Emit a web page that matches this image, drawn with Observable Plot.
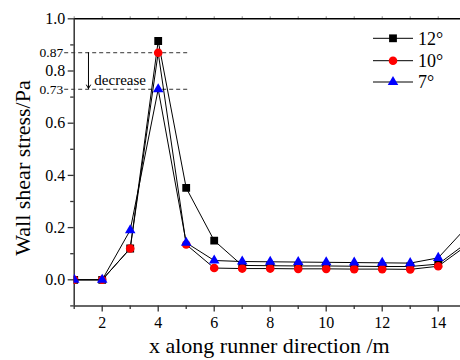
<!DOCTYPE html>
<html><head><meta charset="utf-8">
<script src="https://cdn.jsdelivr.net/npm/d3@7"></script>
<script src="https://cdn.jsdelivr.net/npm/@observablehq/plot@0.6"></script>
<style>body{margin:0;background:#fff;} #chart{width:460px;height:360px;overflow:hidden;}</style>
</head><body><div id="chart"></div>
<script>
const xs        = [1, 2, 3,    4,     5,     6,     7,     8,     9,     10,    11,    12,    13,    14,    15];
const stress12  = [0, 0, 0.12, 0.915, 0.352, 0.150, 0.055, 0.054, 0.053, 0.053, 0.052, 0.051, 0.051, 0.060, 0.14];
const stress10  = [0, 0, 0.12, 0.87,  0.135, 0.045, 0.043, 0.043, 0.042, 0.042, 0.041, 0.041, 0.040, 0.052, 0.13];
const stress7   = [0, 0, 0.19, 0.73,  0.142, 0.074, 0.070, 0.069, 0.068, 0.067, 0.066, 0.065, 0.064, 0.084, 0.20];
const seriesNames   = ["12°", "10°", "7°"];
const markerSymbols = ["square", "circle", "triangle"];
const markerColors  = ["black", "red", "blue"];
const yMajorTicks = [0, 0.2, 0.4, 0.6, 0.8, 1.0];
const yMinorTicks = [-0.1, 0.1, 0.3, 0.5, 0.7, 0.9];
const xMajorTicks = [2, 4, 6, 8, 10, 12, 14];
const xMinorTicks = [1, 3, 5, 7, 9, 11, 13];
const topTicks = [1,2,3,4,5,6,7,8,9,10,11,12,13,14];
const refLevels = [0.87, 0.73];
const annotationText = "decrease";
const xTitle = "x along runner direction /m";
const yTitle = "Wall shear stress/Pa";

const seriesValues = [stress12, stress10, stress7];
const seriesRows = seriesValues.map((arr, i) => arr.map((v, j) => ({x: xs[j], y: v, s: seriesNames[i]})));
const markerR = [4.4, 4.3, 3.9];

const font = "Liberation Serif";
const axisColor = "#333";

const seriesMarks = seriesRows.flatMap((rows, i) => [
  Plot.line(rows, {x: "x", y: "y", stroke: "black", strokeWidth: 1, clip: true}),
  Plot.dot(rows, {x: "x", y: "y", symbol: markerSymbols[i], fill: markerColors[i], stroke: "none", r: markerR[i], clip: true})
]);

const plot = Plot.plot({
  width: 460, height: 360,
  marginLeft: 73.7, marginRight: 0, marginTop: 18.3, marginBottom: 54.6,
  style: {background: "white", overflow: "hidden", color: "black"},
  x: {domain: [1, 14.796], label: null},
  y: {domain: [-0.1, 1.0], label: null},
  marks: [
    Plot.ruleY(refLevels, {x1: 0.66, x2: 5.08, stroke: axisColor, strokeWidth: 1, strokeDasharray: "4,3"}),
    Plot.axisY(yMajorTicks, {tickSize: 6, tickPadding: 3, fontSize: 16, fontFamily: font, tickFormat: d => d.toFixed(1), stroke: axisColor, strokeWidth: 1.3}),
    Plot.axisY(yMinorTicks, {tickSize: 3.5, tickFormat: () => "", stroke: axisColor, strokeWidth: 1.3}),
    Plot.axisY(refLevels, {tickSize: 0, tickPadding: 11, fontSize: 13.5, fontFamily: font, tickFormat: d => d.toFixed(2)}),
    Plot.axisX(xMajorTicks, {tickSize: 6, tickPadding: 5, fontSize: 16, fontFamily: font, stroke: axisColor, strokeWidth: 1.3}),
    Plot.axisX(xMinorTicks, {tickSize: 3.5, tickFormat: () => "", stroke: axisColor, strokeWidth: 1.3}),
    Plot.axisX(topTicks, {anchor: "top", tickSize: 3, tickFormat: () => "", stroke: "#888"}),
    Plot.ruleY([1.0], {stroke: "black", strokeWidth: 1.5}),
    Plot.ruleY([-0.1], {stroke: axisColor, strokeWidth: 1.5}),
    Plot.ruleX([1], {stroke: axisColor, strokeWidth: 1.5}),
    Plot.arrow([refLevels], {x1: () => 1.51, y1: d => d[0], x2: () => 1.51, y2: d => d[1] + 0.003, stroke: "black", strokeWidth: 1, headLength: 6, bend: 0}),
    Plot.text([annotationText], {x: () => 1.72, y: () => 0.764, text: d => d, textAnchor: "start", fontSize: 15, fontFamily: font}),
    ...seriesMarks,
    Plot.text([xTitle], {frameAnchor: "bottom", dx: 2, dy: 47, text: d => d, fontSize: 22, fontFamily: font})
  ]
});

const svg = d3.select(plot);

// Y axis title
svg.append("text")
  .attr("font-family", font).attr("font-size", 22).attr("fill", "black")
  .attr("text-anchor", "middle").attr("dy", "0.35em")
  .attr("transform", "translate(22,168) rotate(-90)")
  .text(yTitle);

// Legend
const lg = svg.append("g").attr("font-family", font).attr("font-size", 18).attr("text-anchor", "start");
const rowY = [38.3, 60.7, 82];
seriesNames.forEach((name, i) => {
  const g = lg.append("g").attr("transform", `translate(0,${rowY[i]})`);
  g.append("line").attr("x1", 373).attr("x2", 413).attr("y1", 0).attr("y2", 0).attr("stroke", "black").attr("stroke-width", 1);
  const symType = [d3.symbolSquare, d3.symbolCircle, d3.symbolTriangle][i];
  g.append("path").attr("d", d3.symbol(symType, Math.PI * markerR[i] * markerR[i])()).attr("transform", "translate(393,0)").attr("fill", markerColors[i]);
  g.append("text").attr("x", 418).attr("y", 0).attr("dy", "0.35em").attr("fill", "black").attr("font-family", font).attr("text-anchor", "start").text(name);
});

document.getElementById("chart").appendChild(plot);
</script>
</body></html>
